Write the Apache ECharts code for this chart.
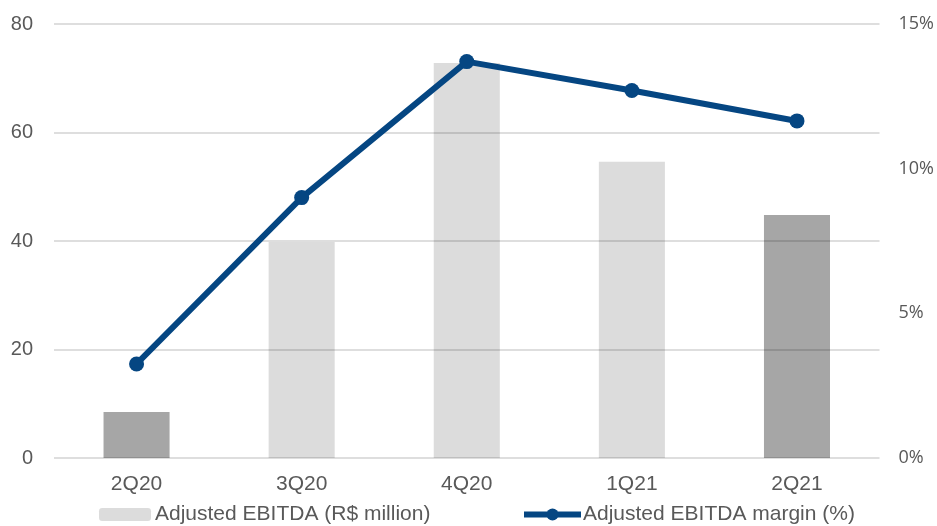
<!DOCTYPE html>
<html>
<head>
<meta charset="utf-8">
<script src="https://cdn.jsdelivr.net/npm/echarts@6/dist/echarts.min.js"></script>
<style>
  html, body { margin: 0; padding: 0; background: #ffffff; }
  #chart { width: 937px; height: 526px; }
</style>
</head>
<body>
<div id="chart"></div>
<script>
// Quarterly adjusted EBITDA and margin
const quarters = ['2Q20', '3Q20', '4Q20', '1Q21', '2Q21'];
const ebitdaMillions = [8.5, 39.8, 72.8, 54.6, 44.8];
const marginPercent = [3.25, 9.0, 13.7, 12.7, 11.65];
// Year-over-year comparable quarters are highlighted in a darker grey
const highlighted = [true, false, false, false, true];
const leftTicks = { min: 0, max: 80, interval: 20 };
const rightTicks = { min: 0, max: 15, interval: 5 };

const barName = 'Adjusted EBITDA (R$ million)';
const lineName = 'Adjusted EBITDA margin (%)';
const lightGrey = '#dcdcdc';
const darkGrey = '#a6a6a6';
const navy = '#054682';
const textGrey = '#595959';

const chart = echarts.init(document.getElementById('chart'));

chart.setOption({
  animation: false,
  backgroundColor: '#ffffff',
  grid: { left: 54, right: 57, top: 24, bottom: 68 },
  legend: [
    {
      data: [barName],
      left: 99,
      top: 504,
      padding: 0,
      itemWidth: 52,
      itemHeight: 13,
      textStyle: { color: textGrey, fontSize: 21, fontFamily: 'Liberation Sans', padding: [0, 0, 0, -1] }
    },
    {
      data: [lineName],
      left: 521,
      top: 504,
      padding: 0,
      itemWidth: 57,
      itemHeight: 15,
      lineStyle: { width: 6 },
      textStyle: { color: textGrey, fontSize: 21, fontFamily: 'Liberation Sans', padding: [0, 0, 0, -3] }
    }
  ],
  xAxis: {
    type: 'category',
    data: quarters,
    axisLine: { show: false },
    axisTick: { show: false },
    axisLabel: { color: textGrey, fontSize: 21, fontFamily: 'Liberation Sans', margin: 16 }
  },
  yAxis: [
    {
      type: 'value',
      min: leftTicks.min,
      max: leftTicks.max,
      interval: leftTicks.interval,
      z: 3,
      axisLine: { show: false },
      axisTick: { show: false },
      axisLabel: { color: textGrey, fontSize: 20, fontFamily: 'Liberation Sans', margin: 21 },
      splitLine: { lineStyle: { color: 'rgba(0,0,0,0.13)', width: 2 } }
    },
    {
      type: 'value',
      min: rightTicks.min,
      max: rightTicks.max,
      interval: rightTicks.interval,
      position: 'right',
      axisLine: { show: false },
      axisTick: { show: false },
      splitLine: { show: false },
      axisLabel: {
        color: textGrey,
        fontSize: 18,
        fontFamily: 'Open Sans',
        margin: 19,
        formatter: '{value}%'
      }
    }
  ],
  series: [
    {
      name: barName,
      type: 'bar',
      yAxisIndex: 0,
      barWidth: '40%',
      itemStyle: { color: lightGrey },
      data: ebitdaMillions.map((v, i) => ({
        value: v,
        itemStyle: { color: highlighted[i] ? darkGrey : lightGrey }
      }))
    },
    {
      name: lineName,
      type: 'line',
      yAxisIndex: 1,
      z: 5,
      data: marginPercent,
      symbol: 'circle',
      symbolSize: 15,
      lineStyle: { color: navy, width: 6 },
      itemStyle: { color: navy }
    }
  ]
});
</script>
</body>
</html>
